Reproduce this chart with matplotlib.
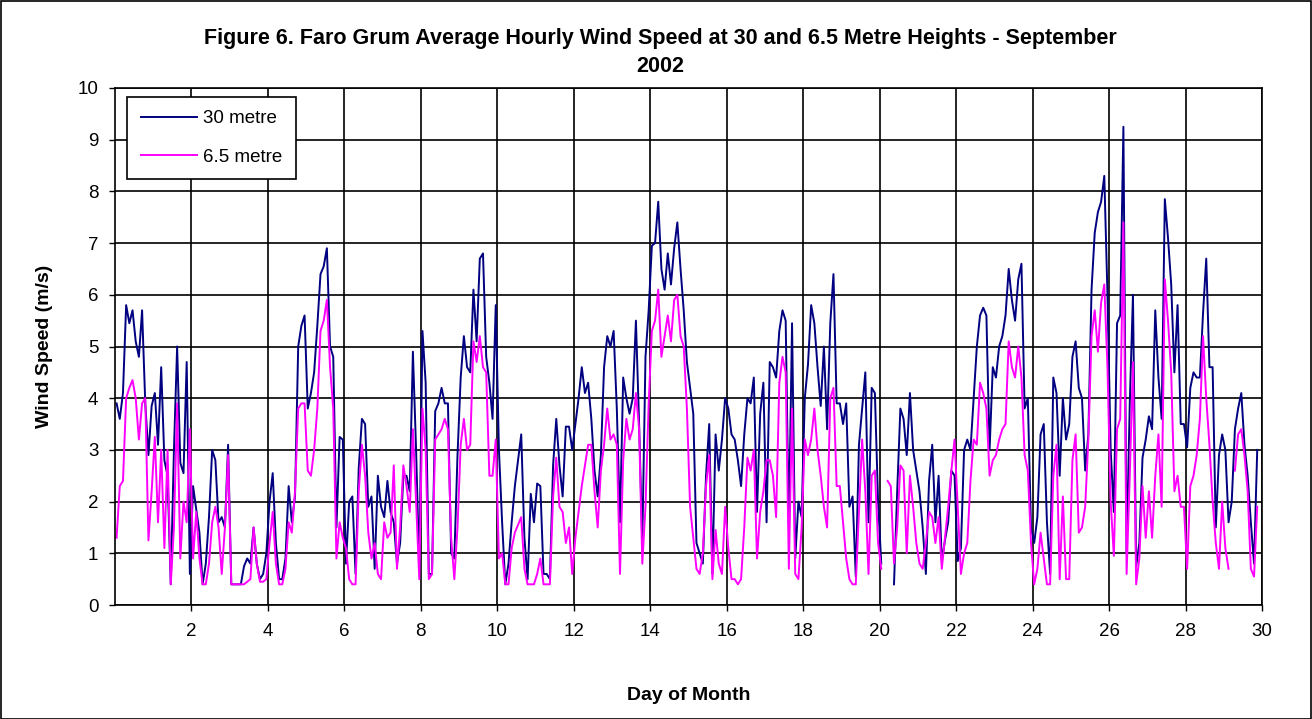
import numpy as np
import matplotlib
matplotlib.use("Agg")
import matplotlib.pyplot as plt
from matplotlib.patches import Rectangle

nan = float("nan")

# two-hourly readings (m/s), 12 per day, Sept 1 to Sept 30
speed_30m = [
    3.9, 3.6, 4.1, 5.8, 5.45, 5.7, 5.1, 4.8, 5.7, 3.9, 2.9, 3.85,
    4.1, 3.1, 4.6, 2.8, 2.5, 0.4, 3.0, 5.0, 2.75, 2.55, 4.7, 0.6,
    2.3, 1.85, 1.4, 0.4, 0.8, 1.7, 3.0, 2.8, 1.6, 1.7, 1.5, 3.1,
    0.4, 0.4, 0.4, 0.4, 0.75, 0.9, 0.8, 1.5, 0.8, 0.5, 0.6, 1.0,
    2.0, 2.55, 1.2, 0.5, 0.5, 0.9, 2.3, 1.6, 2.1, 5.0, 5.4, 5.6,
    3.8, 4.1, 4.5, 5.4, 6.4, 6.55, 6.9, 5.0, 4.8, 1.5, 3.25, 3.2,
    0.8, 2.0, 2.1, 0.6, 2.65, 3.6, 3.5, 1.9, 2.1, 0.7, 2.5, 1.9,
    1.7, 2.4, 1.8, 1.6, 0.8, 1.2, 2.5, 2.5, 2.2, 4.9, 3.0, 0.7,
    5.3, 4.3, 0.6, 0.6, 3.75, 3.9, 4.2, 3.9, 3.9, 1.0, 0.9, 2.9,
    4.4, 5.2, 4.6, 4.5, 6.1, 5.1, 6.7, 6.8, 4.8, 4.3, 3.6, 5.8,
    3.0, 1.6, 0.4, 0.8, 1.6, 2.3, 2.8, 3.3, 1.3, 0.5, 2.15, 1.6,
    2.35, 2.3, 0.6, 0.6, 0.5, 2.7, 3.6, 2.7, 2.1, 3.45, 3.45, 3.0,
    3.5, 4.0, 4.6, 4.1, 4.3, 3.6, 2.6, 2.1, 2.9, 4.6, 5.2, 5.0,
    5.3, 3.8, 1.6, 4.4, 4.0, 3.7, 4.0, 5.5, 3.5, 1.2, 4.8, 5.7,
    6.95, 7.0, 7.8, 6.5, 6.1, 6.8, 6.2, 6.9, 7.4, 6.5, 5.7, 4.7,
    4.2, 3.7, 1.2, 1.0, 0.8, 2.5, 3.5, 0.6, 3.3, 2.6, 3.2, 4.0,
    3.8, 3.3, 3.2, 2.8, 2.3, 3.3, 4.0, 3.9, 4.4, 1.8, 3.7, 4.3,
    1.6, 4.7, 4.6, 4.4, 5.3, 5.7, 5.5, 1.5, 5.45, 0.9, 2.0, 1.7,
    4.0, 4.65, 5.8, 5.45, 4.6, 3.85, 5.0, 3.4, 5.45, 6.4, 3.9, 3.9,
    3.5, 3.9, 1.9, 2.1, 0.55, 3.1, 3.8, 4.5, 1.6, 4.2, 4.1, 2.0,
    0.8, nan, nan, nan, 0.4, 2.2, 3.8, 3.6, 2.9, 4.1, 3.0, 2.6,
    2.2, 1.5, 0.6, 2.4, 3.1, 1.6, 2.5, 0.85, 1.25, 1.6, 2.6, 2.5,
    0.85, 1.1, 3.0, 3.2, 3.0, 4.0, 5.0, 5.6, 5.75, 5.6, 3.0, 4.6,
    4.4, 5.0, 5.2, 5.6, 6.5, 5.9, 5.5, 6.3, 6.6, 3.8, 4.0, 1.5,
    1.2, 1.7, 3.3, 3.5, 1.6, 0.6, 4.4, 4.1, 2.5, 4.0, 3.2, 3.5,
    4.8, 5.1, 4.2, 4.0, 2.6, 3.3, 6.1, 7.2, 7.6, 7.8, 8.3, 6.0,
    3.0, 1.8, 5.45, 5.6, 9.25, 1.0, 3.9, 6.0, 0.75, 1.2, 2.85, 3.2,
    3.65, 3.4, 5.7, 4.4, 3.6, 7.85, 7.1, 6.2, 4.5, 5.8, 3.5, 3.5,
    3.05, 4.2, 4.5, 4.4, 4.4, 5.65, 6.7, 4.6, 4.6, 1.5, 2.9, 3.3,
    3.0, 1.6, 2.0, 3.4, 3.8, 4.1, 3.1, 2.5, 1.6, 0.8, 3.0, nan,
]

speed_6m5 = [
    1.3, 2.3, 2.4, 4.0, 4.2, 4.35, 4.0, 3.2, 3.9, 4.0, 1.25, 2.2,
    3.25, 1.6, 3.0, 1.1, 3.0, 0.4, 1.5, 3.9, 0.9, 2.0, 1.6, 3.4,
    0.9, 1.8, 0.9, 0.4, 0.4, 0.8, 1.6, 1.9, 1.5, 0.6, 1.5, 2.9,
    0.4, 0.4, 0.4, 0.4, 0.4, 0.45, 0.5, 1.5, 0.8, 0.45, 0.45, 0.5,
    1.2, 1.8, 0.8, 0.4, 0.4, 0.7, 1.6, 1.4, 2.2, 3.8, 3.9, 3.9,
    2.6, 2.5, 3.0, 3.8, 5.3, 5.5, 5.9, 4.6, 3.8, 0.9, 1.6, 1.3,
    1.1, 0.5, 0.4, 0.4, 2.2, 3.1, 2.5, 1.4, 0.9, 1.2, 0.6, 0.5,
    1.6, 1.3, 1.4, 2.7, 0.7, 1.5, 2.7, 2.3, 1.8, 3.4, 2.0, 0.5,
    3.8, 3.0, 0.5, 0.6, 3.2, 3.3, 3.4, 3.6, 3.4, 1.3, 0.5, 1.5,
    3.1, 3.6, 3.0, 3.1, 5.1, 4.7, 5.2, 4.6, 4.5, 2.5, 2.5, 3.2,
    0.9, 1.0, 0.4, 0.4, 1.1, 1.4, 1.55, 1.7, 0.7, 0.4, 0.4, 0.4,
    0.6, 0.9, 0.4, 0.4, 0.4, 2.1, 2.85, 1.9, 1.8, 1.2, 1.5, 0.6,
    1.3, 1.8, 2.3, 2.7, 3.1, 3.1, 2.2, 1.5, 2.6, 3.1, 3.8, 3.2,
    3.3, 3.1, 0.6, 2.8, 3.6, 3.2, 3.4, 4.1, 3.4, 0.8, 1.9, 3.9,
    5.3, 5.5, 6.1, 4.8, 5.2, 5.6, 5.1, 5.9, 6.0, 5.2, 5.0, 3.8,
    1.9, 1.3, 0.7, 0.6, 1.0, 2.3, 2.9, 0.5, 1.45, 0.8, 0.6, 1.9,
    1.1, 0.5, 0.5, 0.4, 0.5, 1.5, 2.85, 2.6, 3.0, 0.9, 1.8, 2.2,
    2.8, 2.8, 2.5, 1.7, 4.3, 4.8, 4.5, 0.7, 3.8, 0.6, 0.5, 1.5,
    3.2, 2.9, 3.2, 3.8, 3.0, 2.5, 1.9, 1.5, 4.0, 4.2, 2.3, 2.3,
    1.6, 0.9, 0.5, 0.4, 0.4, 1.8, 3.2, 2.2, 0.6, 2.5, 2.6, 1.2,
    0.7, nan, 2.4, 2.3, 0.8, 1.5, 2.7, 2.6, 1.0, 2.5, 1.9, 1.2,
    0.8, 0.7, 1.2, 1.8, 1.7, 1.2, 1.7, 0.7, 1.3, 1.9, 2.6, 3.2,
    1.9, 0.6, 1.0, 1.2, 2.4, 3.2, 3.1, 4.3, 4.1, 3.8, 2.5, 2.8,
    2.9, 3.2, 3.4, 3.5, 5.1, 4.6, 4.4, 5.0, 4.4, 2.9, 2.6, 1.2,
    0.4, 0.7, 1.4, 0.9, 0.4, 0.4, 2.5, 3.1, 0.5, 2.1, 0.5, 0.5,
    2.8, 3.3, 1.4, 1.5, 1.9, 3.2, 5.2, 5.7, 4.9, 5.85, 6.2, 4.6,
    2.0, 0.95, 3.4, 3.6, 7.4, 0.6, 2.5, 4.7, 0.4, 0.9, 2.3, 1.3,
    2.2, 1.3, 2.5, 3.3, 1.9, 6.3, 5.5, 4.5, 2.2, 2.5, 1.9, 1.9,
    0.7, 2.3, 2.5, 2.9, 3.6, 5.2, 4.0, 3.1, 2.0, 1.2, 0.7, 2.0,
    1.1, 0.7, nan, 2.6, 3.3, 3.4, 2.9, 2.2, 0.7, 0.55, 1.9, nan,
]

series_labels = ["30 metre", "6.5 metre"]
series_colors = ["#000080", "#FF00FF"]
day_ticks = list(range(2, 31, 2))
speed_ticks = list(range(0, 11))

hours = np.arange(len(speed_30m)) * 2 + 1
days = hours / 24.0

plt.rcParams["font.family"] = ["Liberation Sans", "DejaVu Sans"]

fig = plt.figure(figsize=(13.12, 7.19), dpi=100)
ax = fig.add_axes([115 / 1312, 1 - 605 / 719, 1147 / 1312, 517 / 719])

for vals, lab, col in zip([speed_30m, speed_6m5], series_labels, series_colors):
    ax.plot(days, vals, color=col, lw=1.4, label=lab)

ax.set_xlim(0, 30)
ax.set_ylim(0, 10)
ax.set_xticks(day_ticks)
ax.set_yticks(speed_ticks)
ax.grid(True, color="black", lw=1.2)
ax.set_axisbelow(True)
for s in ax.spines.values():
    s.set_color("black")
    s.set_linewidth(1.2)
ax.tick_params(axis="both", labelsize=13.5, direction="out", length=4, width=1)
ax.tick_params(axis="x", pad=9)
ax.tick_params(axis="y", pad=8)

leg = ax.legend(loc="upper left", bbox_to_anchor=(0.0105, 0.983), borderaxespad=0,
                fontsize=13.5, frameon=True, fancybox=False, edgecolor="black",
                framealpha=1, handlelength=3.0, labelspacing=1.12, borderpad=0.72,
                handletextpad=0.35)
leg.get_frame().set_linewidth(1.2)

fig.text(660 / 1312, 1 - 52.5 / 719,
         "Figure 6. Faro Grum Average Hourly Wind Speed at 30 and 6.5 Metre Heights - September\n2002",
         ha="center", va="center", fontsize=15.5, fontweight="bold", linespacing=1.4)
fig.text(45 / 1312, 1 - 346 / 719, "Wind Speed (m/s)", rotation=90,
         ha="center", va="center", fontsize=14, fontweight="bold")
fig.text(689 / 1312, 1 - 695 / 719, "Day of Month",
         ha="center", va="center", fontsize=14, fontweight="bold")

fig.add_artist(Rectangle((0.5 / 1312, 0.5 / 719), 1 - 1.5 / 1312, 1 - 1.5 / 719,
                         transform=fig.transFigure, fill=False, edgecolor="black", lw=1.2))

fig.savefig("out.png", dpi=100)
